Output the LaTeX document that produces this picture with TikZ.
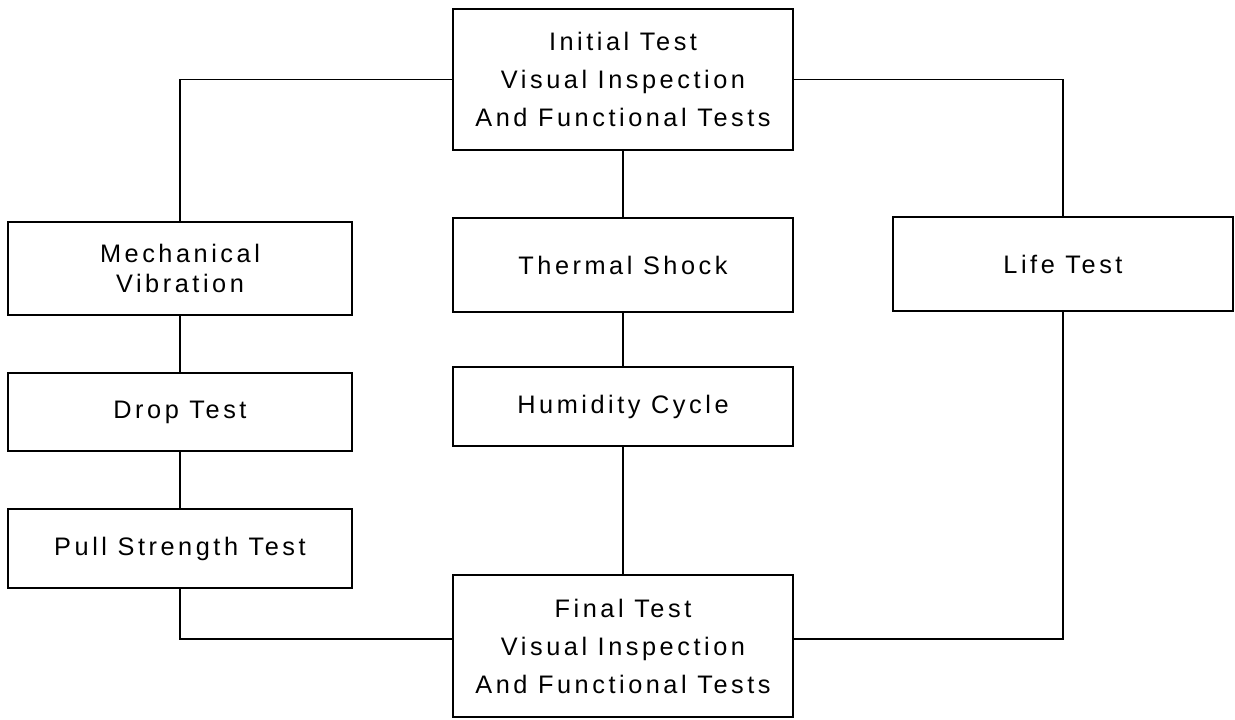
\documentclass[tikz,border=0pt]{standalone}
\usepackage{fontspec}
\setmainfont{Liberation Sans}[LetterSpace=14]
\usepackage{tikz}

\begin{document}
\begin{tikzpicture}[x = 0.025cm, y = -0.025cm, line width = 1.2pt,
                        testbox/.style = {rectangle, draw, align = center, inner sep = 0pt,
                                          font = \fontsize{18}{27}\selectfont},
                        wide/.style = {testbox, minimum width = 8.5cm},
                        side/.style = {testbox, minimum width = 8.6cm}]
        \useasboundingbox (0,0) rectangle (1235,719);

        \node [wide, minimum height = 3.525cm] (init) at (623,79.5) {Initial Test \\ Visual Inspection \\ And Functional Tests};
        \node [side, minimum height = 2.325cm, font = \fontsize{18}{21}\selectfont] (mech) at (180,268.5) {Mechanical \\ Vibration};
        \node [wide, minimum height = 2.35cm] (therm) at (623,265) {Thermal Shock};
        \node [wide, minimum height = 2.35cm] (life) at (1063,264) {Life Test};
        \node [side, minimum height = 1.95cm] (drop) at (180,412) {Drop Test};
        \node [wide, minimum height = 1.975cm] (humid) at (623,406.5) {Humidity Cycle};
        \node [side, minimum height = 1.975cm] (pull) at (180,548.5) {Pull Strength Test};
        \node [wide, minimum height = 3.55cm] (final) at (623,646) {Final Test \\ Visual Inspection \\ And Functional Tests};

        \draw (init.west) -| (mech.north);
        \draw (init.east) -| (life.north);
        \draw (init) -- (therm);
        \draw (therm) -- (humid);
        \draw (humid) -- (final);
        \draw (mech) -- (drop);
        \draw (drop) -- (pull);
        \draw (pull.south) |- ([yshift = 0.175cm]final.west);
        \draw (life.south) |- ([yshift = 0.175cm]final.east);
        \end{tikzpicture}
\end{document}
